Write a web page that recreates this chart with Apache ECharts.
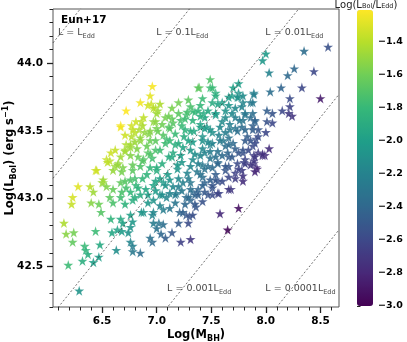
<!DOCTYPE html>
<html>
<head>
<meta charset="utf-8">
<script src="https://cdn.jsdelivr.net/npm/echarts@6/dist/echarts.min.js"></script>
<style>
  html, body { margin: 0; padding: 0; background: #fff; }
  #chart { width: 407px; height: 342px; }
</style>
</head>
<body>
<div id="chart"></div>
<script>
// black hole mass (log M_BH) and bolometric luminosity (log L_Bol, erg/s)
const logM = [
  // bright, high-ratio stars (upper left)
  6.96,6.94,6.85,6.95,6.72,6.99,7.01,7.00,6.67,6.77,6.81,6.86,6.88,
  6.84,6.97,6.77,6.72,6.74,6.54,6.57,6.44,6.62,6.51,7.14,7.29,7.08,
  // upper right
  8.35,8.57,8.00,7.97,8.03,8.20,8.26,8.44,8.14,8.33,8.04,8.50,8.22,
  8.22,8.24,8.21,8.15,8.01,8.06,8.01,8.06,8.00,8.03,7.99,7.89,7.91,
  7.80,7.89,7.79,7.75,7.70,7.89,7.86,7.79,7.88,7.49,7.39,7.49,7.54,
  7.42,7.75,7.69,7.75,7.92,7.97,7.79,
  // lower left
  6.28,6.39,6.42,6.50,6.51,6.23,6.22,6.40,6.47,6.49,6.15,6.17,6.24,
  6.23,6.44,6.34,6.35,6.37,6.32,6.19,6.48,6.42,6.47,6.63,6.58,6.67,
  6.59,6.64,6.68,6.76,6.76,6.74,6.88,6.76,6.78,6.78,6.85,6.96,7.02,
  6.97,7.00,7.04,7.08,6.96,6.94,7.14,7.22,7.31,7.12,7.21,7.27,7.24,
  7.30,7.29,7.20,7.31,7.33,6.29,6.45,6.55,6.69,6.78,7.06,
  // lower right, low ratio
  7.44,7.38,7.37,7.42,7.51,7.51,7.57,7.68,7.56,7.58,7.75,7.65,7.33,
  // middle band
  6.54,6.60,6.67,6.72,6.81,6.90,6.97,7.06,7.15,7.24,7.31,6.57,6.60,6.67,
  6.78,6.85,6.97,7.03,7.09,7.18,7.27,7.35,6.86,6.92,6.97,7.06,7.36,7.26,
  6.58,6.62,6.67,6.71,6.76,6.60,6.65,6.69,6.78,6.83,6.88,6.92,
  6.80,6.85,6.89,6.94,7.00,7.06,7.11,7.15,7.22,7.27,7.33,
  // dense core
  7.38,7.51,7.54,7.66,7.74,7.79,7.89,6.92,6.97,7.31,7.51,7.60,7.66,
  7.72,7.78,7.88,7.20,7.28,7.35,7.43,7.47,7.54,7.69,7.81,7.86,7.90,
  6.67,6.78,6.87,6.99,7.05,7.14,7.23,7.33,7.40,7.46,7.60,7.67,7.72,7.79,7.88,7.93,
  6.71,6.76,6.85,6.93,7.01,7.09,7.17,7.25,7.34,7.42,7.51,7.57,7.66,7.74,7.83,7.91,
  6.64,6.71,6.82,6.91,6.99,7.08,7.15,7.24,7.33,7.42,7.49,7.56,7.63,7.72,7.79,7.88,7.93,
  6.68,6.78,6.87,6.96,7.05,7.14,7.23,7.33,7.42,7.49,7.56,7.66,7.74,7.81,7.89,
  6.71,6.80,6.91,7.00,7.10,7.19,7.28,7.37,7.44,7.54,7.63,7.72,7.79,7.90,
  6.68,6.83,7.08,7.20,7.31,7.42,7.51,7.56,7.66,6.80,6.92,7.05,7.17,7.29,7.38,7.47,7.81,7.90,
  7.38,7.44,7.54,7.63,7.72,7.81,7.90,7.40,7.49,7.58,7.67,7.78,7.88,7.93,
  7.42,7.51,7.61,7.70,7.81,7.90,7.44,7.54,7.65,7.75,7.84,
  7.38,7.47,7.56,7.66,7.78,7.42,7.54,7.66,
  7.03,7.12,7.22,7.31,7.40,6.94,7.03,7.12,7.20,7.31,7.40,7.49,7.58,7.26,7.17,
  // filling the gaps of the core
  7.11,7.26,7.40,7.63,7.76,6.94,7.12,7.31,7.44,7.63,7.81,
  6.80,6.99,7.20,7.29,7.47,7.66,7.86,6.76,6.94,7.11,7.35,7.60,7.69,7.97,
  6.85,7.00,7.19,7.51,7.63,7.75,7.86,6.76,6.87,6.99,7.29,7.49,7.60,7.72,
  6.76,6.99,7.12,7.23,7.44,6.71,7.03,7.17,7.35,7.03,7.20,7.40,7.56
];
const logL = [
  43.83,43.76,43.71,43.70,43.65,43.67,43.65,43.63,43.54,43.54,43.57,43.57,43.60,
  43.51,43.57,43.46,43.40,43.38,43.29,43.28,43.21,43.24,43.12,43.67,43.73,43.60,
  44.09,44.12,44.07,44.02,43.93,43.91,43.96,43.94,43.82,43.82,43.79,43.74,43.74,
  43.68,43.61,43.63,43.65,43.65,43.63,43.57,43.56,43.49,43.37,43.32,43.32,43.23,
  43.27,43.26,43.13,43.85,43.82,43.78,43.71,43.71,43.63,43.88,43.82,43.82,43.78,
  43.74,43.78,43.76,43.75,43.22,43.32,43.34,
  43.09,43.09,43.05,43.12,43.14,43.01,42.96,42.97,42.96,42.90,42.82,42.74,42.75,
  42.68,42.76,42.65,42.62,42.59,42.54,42.51,42.66,42.53,42.57,42.62,42.85,42.85,
  42.75,42.77,42.76,42.88,42.79,42.75,42.90,42.68,42.65,42.61,42.60,42.88,42.82,
  42.82,42.78,42.74,42.71,42.68,42.71,42.75,42.68,42.70,42.93,42.90,42.88,42.90,
  42.87,42.82,42.82,42.99,43.05,42.32,43.21,43.27,42.82,42.83,42.81,
  43.12,43.07,43.05,42.98,43.08,43.03,43.04,43.07,43.13,42.89,42.93,42.77,42.88,
  43.09,43.07,43.12,43.08,43.10,43.07,43.10,43.12,43.09,43.12,43.07,43.01,42.97,43.01,
  42.99,43.03,42.99,43.03,43.01,43.04,43.01,43.03,42.90,42.97,42.90,42.92,42.94,42.96,
  43.34,43.36,43.31,43.36,43.38,43.21,43.26,43.23,43.21,43.31,43.29,43.34,
  43.49,43.43,43.49,43.43,43.52,43.47,43.53,43.56,43.58,43.62,43.65,
  43.82,43.82,43.76,43.75,43.75,43.76,43.77,43.69,43.67,43.68,43.71,43.71,43.69,
  43.67,43.68,43.71,43.63,43.64,43.64,43.63,43.65,43.62,43.63,43.62,43.60,43.57,
  43.53,43.51,43.54,43.57,43.55,43.59,43.54,43.58,43.55,43.53,43.57,43.55,43.52,43.58,43.54,43.51,
  43.47,43.40,43.45,43.48,43.50,43.44,43.48,43.46,43.50,43.46,43.49,43.47,43.45,43.50,43.46,43.44,
  43.25,43.35,43.37,43.39,43.36,43.41,43.34,43.38,43.42,43.37,43.40,43.35,43.39,43.37,43.36,43.39,43.34,
  43.20,43.25,43.28,43.30,43.26,43.31,43.27,43.29,43.25,43.30,43.27,43.31,43.26,43.29,43.28,
  43.13,43.15,43.18,43.21,43.18,43.22,43.19,43.20,43.22,43.18,43.21,43.19,43.17,43.20,
  43.05,43.08,43.10,43.09,43.12,43.10,43.10,43.04,43.07,43.01,43.03,43.03,43.03,43.01,43.03,43.03,43.26,43.31,
  43.65,43.60,43.63,43.65,43.60,43.63,43.58,43.53,43.51,43.53,43.51,43.53,43.51,43.46,
  43.43,43.41,43.43,43.41,43.43,43.41,43.34,43.31,43.34,43.34,43.36,
  43.26,43.24,43.26,43.24,43.21,43.16,43.14,43.16,
  43.36,43.43,43.32,43.36,43.32,43.23,43.15,43.14,43.15,43.24,43.18,43.35,43.43,43.51,43.40,
  43.61,43.59,43.61,43.60,43.58,43.50,43.52,43.50,43.52,43.49,43.51,
  43.42,43.43,43.41,43.43,43.42,43.40,43.43,43.32,43.33,43.31,43.33,43.32,43.31,43.33,
  43.24,43.23,43.25,43.23,43.24,43.22,43.25,43.14,43.15,43.13,43.15,43.14,43.13,43.15,
  43.05,43.06,43.04,43.06,43.05,42.96,42.95,42.97,42.96,43.70,43.71,43.69,43.70
];

const xTicks = [6.5, 7.0, 7.5, 8.0, 8.5];
const xMinorTicks = [6.1,6.2,6.3,6.4,6.6,6.7,6.8,6.9,7.1,7.2,7.3,7.4,7.6,7.7,7.8,7.9,8.1,8.2,8.3,8.4,8.6];
const yTicks = [42.5, 43.0, 43.5, 44.0];
const yMinorTicks = [42.2,42.3,42.4,42.6,42.7,42.8,42.9,43.1,43.2,43.3,43.4,43.6,43.7,43.8,43.9,44.1,44.2,44.3,44.4];
const cbTicks = [-3.0, -2.8, -2.6, -2.4, -2.2, -2.0, -1.8, -1.6, -1.4];

// constant Eddington ratio lines, log(L/L_Edd)
const eddRatios = [0, -1, -2, -3, -4];
const eddLabels = ['L = L{s|Edd}', 'L = 0.1L{s|Edd}', 'L = 0.01L{s|Edd}', 'L = 0.001L{s|Edd}', 'L = 0.0001L{s|Edd}'];
const eddLabelAt = [[6.1, 44.22], [7.0, 44.22], [8.0, 44.22], [7.1, 42.33], [8.0, 42.33]];

const LOG_LEDD = 38.1; // log(1.26e38 erg/s per solar mass)
const xMin = 6.05, xMax = 8.67, yMin = 42.2, yMax = 44.4;
const cbMin = -3.0, cbMax = -1.21;

const FONT = 'DejaVu Sans';
const viridis = ['#440154','#482878','#3e4989','#31688e','#26828e','#1f9e89','#35b779','#6ece58','#b5de2b','#fde725'];
const STAR = 'path://M0,-10L2.245,-3.09L9.51,-3.09L3.63,1.18L5.88,8.09L0,3.82L-5.88,8.09L-3.63,1.18L-9.51,-3.09L-2.245,-3.09Z';

const stars = logM.map((m, i) => [m, logL[i], logL[i] - m - LOG_LEDD]);

const chart = echarts.init(document.getElementById('chart'), null, { renderer: 'canvas' });

const nameStyle = {
  fontFamily: FONT, fontSize: 11.5, fontWeight: 'bold', color: '#000', lineHeight: 16,
  rich: {
    s: { fontFamily: FONT, fontSize: 8, fontWeight: 'bold', color: '#000', verticalAlign: 'bottom', lineHeight: 8 },
    p: { fontFamily: FONT, fontSize: 8, fontWeight: 'bold', color: '#000', verticalAlign: 'top', lineHeight: 8 }
  }
};
const tickLabel = { fontFamily: FONT, fontSize: 10.5, fontWeight: 'bold', color: '#000' };

const option = {
  animation: false,
  grid: [
    { left: 53, top: 9, right: 68, bottom: 35, show: true, borderColor: '#555', borderWidth: 1,
      containLabel: false, outerBoundsMode: 'none' },
    { left: 357, top: 10, width: 16, height: 296, show: false, containLabel: false, outerBoundsMode: 'none' }
  ],
  xAxis: [
    {
      type: 'value', gridIndex: 0, min: xMin, max: xMax, position: 'bottom',
      name: 'Log(M{s|BH})', nameLocation: 'middle', nameGap: 20, nameMoveOverlap: false, nameTextStyle: nameStyle,
      axisLine: { show: false }, splitLine: { show: false },
      axisTick: { show: true, customValues: xTicks, length: 6, lineStyle: { color: '#222', width: 1.3 } },
      axisLabel: Object.assign({ customValues: xTicks, margin: 9, formatter: v => v.toFixed(1) }, tickLabel)
    },
    {
      type: 'value', gridIndex: 0, min: xMin, max: xMax, position: 'bottom',
      axisLine: { show: false }, splitLine: { show: false }, axisLabel: { show: false },
      axisTick: { show: true, customValues: xMinorTicks, length: 3.5, lineStyle: { color: '#222', width: 1 } }
    },
    { type: 'value', gridIndex: 1, show: false, min: 0, max: 1 }
  ],
  yAxis: [
    {
      type: 'value', gridIndex: 0, min: yMin, max: yMax, position: 'left',
      name: 'Log(L{s|Bol}) (erg s{p|\u22121})', nameLocation: 'middle', nameGap: 35, nameMoveOverlap: false,
      nameTextStyle: nameStyle,
      axisLine: { show: false }, splitLine: { show: false },
      axisTick: { show: true, customValues: yTicks, length: 6, lineStyle: { color: '#222', width: 1.3 } },
      axisLabel: Object.assign({ customValues: yTicks, margin: 10, formatter: v => v.toFixed(1) }, tickLabel)
    },
    {
      type: 'value', gridIndex: 0, min: yMin, max: yMax, position: 'left',
      axisLine: { show: false }, splitLine: { show: false }, axisLabel: { show: false },
      axisTick: { show: true, customValues: yMinorTicks, length: 3.5, lineStyle: { color: '#222', width: 1 } }
    },
    {
      type: 'value', gridIndex: 1, min: cbMin, max: cbMax, position: 'right',
      axisLine: { show: false }, splitLine: { show: false },
      axisTick: { show: true, customValues: cbTicks, length: 3.5, lineStyle: { color: '#222', width: 1 } },
      axisLabel: Object.assign({ customValues: cbTicks, margin: 5, formatter: v => v.toFixed(1).replace('-', '\u2212') },
        tickLabel, { fontSize: 9.5 })
    }
  ],
  visualMap: {
    type: 'continuous', min: cbMin, max: cbMax, dimension: 2, seriesIndex: 0,
    left: 357, top: 10, itemWidth: 16, itemHeight: 296, padding: 0,
    text: ['', ''], calculable: false, hoverLink: false,
    inRange: { color: viridis }
  },
  title: {
    text: 'Eun+17', left: 61, top: 15, padding: 0,
    textStyle: { fontFamily: FONT, fontSize: 10.5, fontWeight: 'bold', color: '#000' }
  },
  graphic: [{
    type: 'text', x: 366, y: 5, silent: true,
    style: {
      text: 'Log(L{s|Bol}/L{s|Edd})', align: 'center', verticalAlign: 'middle',
      fontFamily: FONT, fontSize: 10, fill: '#222',
      rich: { s: { fontFamily: FONT, fontSize: 6.5, fill: '#222', verticalAlign: 'bottom', lineHeight: 6 } }
    }
  }],
  series: [
    {
      type: 'scatter', xAxisIndex: 0, yAxisIndex: 0,
      symbol: STAR, symbolSize: 10,
      itemStyle: { opacity: 0.9, borderColor: 'rgba(255,255,255,0.35)', borderWidth: 0.4 },
      data: stars
    },
    ...eddRatios.map(r => ({
      type: 'line', xAxisIndex: 0, yAxisIndex: 0, z: 3, silent: true,
      symbol: 'none', clip: true,
      lineStyle: { color: '#333', width: 0.7, type: [2, 2] },
      data: [[xMin, xMin + LOG_LEDD + r], [xMax, xMax + LOG_LEDD + r]]
    })),
    {
      type: 'scatter', xAxisIndex: 0, yAxisIndex: 0, z: 4, silent: true,
      symbolSize: 1, itemStyle: { color: 'rgba(0,0,0,0)' },
      label: {
        show: true, position: [0, 0], align: 'left', verticalAlign: 'middle',
        formatter: p => eddLabels[p.dataIndex],
        fontFamily: FONT, fontSize: 9.5, color: '#111', lineHeight: 13,
        rich: { s: { fontFamily: FONT, fontSize: 6.5, color: '#111', verticalAlign: 'bottom', lineHeight: 7 } }
      },
      data: eddLabelAt
    }
  ]
};

chart.setOption(option);
</script>
</body>
</html>
